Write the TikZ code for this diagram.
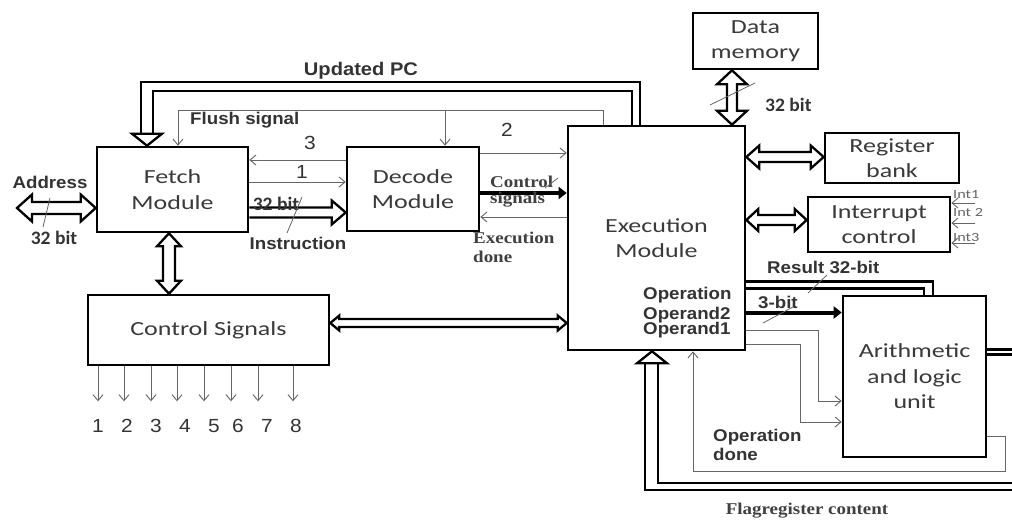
\documentclass[tikz,border=0pt]{standalone}
\usepackage{fontspec}
\usetikzlibrary{arrows.meta,calc}
\newfontfamily\boxf[FakeStretch=1.3]{Carlito}
\newfontfamily\cbf[FakeStretch=1.03]{Carlito}
\newfontfamily\sansf[FakeStretch=1.1]{Liberation Sans}
\newfontfamily\numf[FakeStretch=1.1]{Liberation Sans}
\newfontfamily\seriff[FakeStretch=1.15]{Liberation Serif}
\definecolor{txt}{HTML}{3A3A3A}
\definecolor{wire}{HTML}{666666}

% horizontal bidirectional bus: left point, right point (x only), half-sep, head half-width, head length
\newcommand\hbibus[5]{%
  \path[busp] let \p1=(#1), \p2=(#2) in
   (\x1,\y1) -- ({\x1+#5pt},{\y1+#4pt}) -- ({\x1+#5pt},{\y1+#3pt}) -- ({\x2-#5pt},{\y1+#3pt}) -- ({\x2-#5pt},{\y1+#4pt}) -- (\x2,\y1) -- ({\x2-#5pt},{\y1-#4pt}) -- ({\x2-#5pt},{\y1-#3pt}) -- ({\x1+#5pt},{\y1-#3pt}) -- ({\x1+#5pt},{\y1-#4pt}) -- cycle;}
% vertical bidirectional bus: top point, bottom point (y only)
\newcommand\vbibus[5]{%
  \path[busp] let \p1=(#1), \p2=(#2) in
   (\x1,\y1) -- ({\x1+#4pt},{\y1-#5pt}) -- ({\x1+#3pt},{\y1-#5pt}) -- ({\x1+#3pt},{\y2+#5pt}) -- ({\x1+#4pt},{\y2+#5pt}) -- (\x1,\y2) -- ({\x1-#4pt},{\y2+#5pt}) -- ({\x1-#3pt},{\y2+#5pt}) -- ({\x1-#3pt},{\y1-#5pt}) -- ({\x1-#4pt},{\y1-#5pt}) -- cycle;}
% horizontal one-way bus, head at right
\newcommand\hbus[5]{%
  \path[busp] let \p1=(#1), \p2=(#2) in
   (\x1,{\y1+#3pt}) -- ({\x2-#5pt},{\y1+#3pt}) -- ({\x2-#5pt},{\y1+#4pt}) -- (\x2,\y1) -- ({\x2-#5pt},{\y1-#4pt}) -- ({\x2-#5pt},{\y1-#3pt}) -- (\x1,{\y1-#3pt});}

\tikzset{
 blk/.style={draw=black, line width=2.6pt, fill=white, inner sep=0pt, text=txt,
   font=\boxf\fontsize{20}{25.5}\selectfont, align=center},
 sig/.style={draw=wire, line width=0.9pt, -{Straight Barb[length=6pt,width=10pt]}},
 busp/.style={draw=black, line width=2.3pt, fill=white, line join=miter},
 busline/.style={draw=black, line width=2.3pt},
 fat/.style={draw=black, line width=4pt, -{Triangle[length=8pt,width=12pt]}},
 lab/.style={font=\sansf\bfseries\fontsize{17}{19}\selectfont, text=black!80, inner sep=0pt},
 labbig/.style={font=\sansf\bfseries\fontsize{18.3}{20}\selectfont, text=black!80, inner sep=0pt},
 num/.style={font=\numf\fontsize{19}{21}\selectfont, text=black!80, inner sep=0pt},
 slab/.style={font=\seriff\bfseries\fontsize{16.5}{18}\selectfont, text=black!75, inner sep=0pt},
 cb/.style={font=\cbf\bfseries\fontsize{19}{21}\selectfont, text=black!80, inner sep=0pt},
 intl/.style={font=\boxf\fontsize{12.5}{14}\selectfont, text=wire, inner sep=0pt},
 slash/.style={draw=wire, line width=0.8pt},
}

\begin{document}
\begin{tikzpicture}[x=1pt,y=-1pt]
\useasboundingbox (0,0) rectangle (1012,520);
\clip (0,0) rectangle (1012,520);

% blocks
\node[blk, minimum width=151pt, minimum height=85pt] (fetch) at (172.5,189.5) {Fetch\\Module};
\node[blk, minimum width=132pt, minimum height=84pt] (decode) at (413,189) {Decode\\Module};
\node[blk, minimum width=177pt, minimum height=224pt] (exec) at (656.5,238) {Execution\\Module};
\node[blk, minimum width=241pt, minimum height=70pt] (ctrl) at (208.5,330) {Control Signals};
\node[blk, minimum width=125pt, minimum height=56pt] (dmem) at (755.5,41) {Data\\memory};
\node[blk, minimum width=134pt, minimum height=50pt] (regb) at (892,158) {Register\\bank};
\node[blk, minimum width=142pt, minimum height=55pt] (intr) at (879,224.5) {Interrupt\\control};
\node[blk, minimum width=143pt, minimum height=161pt] (alu) at (914.5,376.5) {Arithmetic\\and logic\\unit};

% Address bus
\coordinate (addr) at (17,208);
\hbibus{addr}{fetch.west}{6}{13.5}{15}
\node[lab] (laddr) at (50,182) {Address};
\node[cb] (l32a) at (54,238) {32 bit};
\draw[slash] (43,227) -- (50,198);

% Updated PC
\coordinate (pcA) at ($(exec.north)+(-16.5,0)$);
\coordinate (pcB) at ($(exec.north)+(-24.5,0)$);
\coordinate (pcT) at ($(fetch.north)+(-25.5,0)$);
\draw[busline] (pcA) -- ($(pcA)+(0,-43)$) -| ($(pcT)+(-6,-11)$);
\draw[busline] (pcB) -- ($(pcB)+(0,-34)$) -| ($(pcT)+(6,-11)$);
\path[busp] ($(pcT)+(-15,-12)$) -- ($(pcT)+(15,-12)$) -- (pcT) -- cycle;
\node[labbig] (lpc) at (361,71) {Updated PC};

% Flush signal
\draw[sig] ($(exec.north)+(-53.5,0)$) -- ++(0,-14) -| ($(fetch.north)+(5.5,0)$);
\draw[sig] ($(decode.north)+(32,-35)$) -- ($(decode.north)+(32,0)$);
\node[lab, anchor=west] (lfl) at (190,120) {Flush signal};

% lines 3, 1, instruction
\draw[sig] ($(decode.west)+(0,-29)$) coordinate (l3) -- (fetch.east |- l3);
\draw[sig] ($(fetch.east)+(0,-7.5)$) coordinate (l1) -- (decode.west |- l1);
\node[num] (n3) at (310,143) {3};
\node[num] (n1) at (302,172) {1};
\coordinate (ins) at ($(fetch.east)+(0,23)$);
\hbus{ins}{decode.west}{5}{12}{14}
\node[cb] (l32b) at (276,204) {32 bit};
\draw[slash] (302,197) -- (287,233);
\node[lab] (linstr) at (298,243) {Instruction};

% decode - exec
\draw[sig] ($(decode.east)+(0,-36)$) coordinate (l2) -- (exec.west |- l2);
\node[num] (n2) at (507,130) {2};
\draw[fat] ($(decode.east)+(0,4)$) coordinate (cs) -- (exec.west |- cs);
\node[slab, anchor=west] (lcs1) at (490,182) {Control};
\node[slab, anchor=west] (lcs2) at (490,200) {signals};
\draw[slash] (545,188) -- (558,178);
\coordinate (ed) at ($(decode.east)+(0,28)$);
\draw[sig] (exec.west |- ed) -- (ed);
\node[slab, anchor=west] (led1) at (473,238) {Execution};
\node[slab, anchor=west] (led2) at (473,257) {done};

% fetch - control, control - exec
\coordinate (fc) at ($(fetch.south)+(-3.5,0)$);
\vbibus{fc}{ctrl.north}{6}{12}{13}
\coordinate (ce) at ($(ctrl.east)+(0,-7)$);
\hbibus{ce}{exec.west}{4}{7.5}{9}

% control outputs
\foreach \ax/\lx/\n in {-110.5/-110.5/1, -84.5/-81.5/2, -57.5/-52.5/3, -31.5/-23.5/4, -4.5/5.5/5, 22.5/29.5/6, 49.5/58.5/7, 84.5/87.5/8}{
  \draw[sig] ($(ctrl.south)+(\ax,0)$) -- ($(ctrl.south)+(\ax,35)$) coordinate (out\n);
  \node[num] (cn\n) at ($(ctrl.south)+(\lx,60)$) {\n};
}

% data memory
\coordinate (dm) at ($(dmem.south)+(-23.5,0)$);
\vbibus{dm}{exec.north}{5}{15}{14}
\draw[slash] (710,105) -- (755,83);
\node[cb, anchor=west] (l32c) at (765,105) {32 bit};

% register bank, interrupt
\coordinate (rb) at ($(exec.east)+(0,-81)$);
\hbibus{rb}{regb.west}{5}{11.5}{13}
\coordinate (ic) at ($(exec.east)+(0,-18)$);
\hbibus{ic}{intr.west}{5}{11}{12}
\draw[sig] ($(intr.east)+(24,-21.5)$) coordinate (i1) -- (intr.east |- i1);
\draw[sig] ($(intr.east)+(24,-1.5)$) coordinate (i2) -- (intr.east |- i2);
\draw[sig] ($(intr.east)+(24,18.5)$) coordinate (i3) -- (intr.east |- i3);
\node[intl, anchor=west] (li1) at (953,195) {Int1};
\node[intl, anchor=west] (li2) at (953,212) {Int 2};
\node[intl, anchor=west] (li3) at (953,237) {Int3};

% result bus
\draw[busline] ($(alu.north)+(18.5,0)$) |- ($(exec.east)+(0,43.5)$);
\draw[busline] ($(alu.north)+(9.5,0)$) |- ($(exec.east)+(0,50.5)$);
\node[lab, anchor=west] (lres) at (767,267) {Result 32-bit};
\draw[slash] (808,293) -- (827,275);

% operation
\draw[fat] ($(exec.east)+(0,74.5)$) coordinate (opS) -- (alu.west |- opS);
\node[lab, anchor=west] (l3b) at (758,302) {3-bit};
\draw[slash] (763,323) -- (793,307);
\node[lab, anchor=west] (lop) at (643,295) {Operation};
\node[lab, anchor=west] (lo2) at (643,315) {Operand2};
\node[lab, anchor=west] (lo1) at (643,330) {Operand1};

% operands
\draw[sig] ($(exec.east)+(0,92)$) -- ++(72,0) |- ($(alu.west)+(0,24.5)$);
\draw[sig] ($(exec.east)+(0,106)$) -- ++(54,0) |- ($(alu.west)+(0,45.5)$);

% operation done
\draw[sig] ($(alu.east)+(0,59.5)$) -- ++(18,0) -- ++(0,35) -| ($(exec.south)+(36.5,0)$);
\node[lab, anchor=west] (lod1) at (713,437) {Operation};
\node[lab, anchor=west] (lod2) at (713,454) {done};

% flag register bus
\draw[busline] ($(alu.east)+(0,-27)$) -- ++(40,0) |- ($(exec.south)+(-11.5,139)$) -- ($(exec.south)+(-11.5,12)$);
\draw[busline] ($(alu.east)+(0,-22)$) -- ++(33,0) |- ($(exec.south)+(1.5,132)$) -- ($(exec.south)+(1.5,12)$);
\path[busp] ($(exec.south)+(-19.5,12)$) -- ($(exec.south)+(10.5,12)$) -- ($(exec.south)+(-4.5,0)$) -- cycle;
\node[slab] (lflag) at (807,511) {Flagregister content};
\end{tikzpicture}
\end{document}
